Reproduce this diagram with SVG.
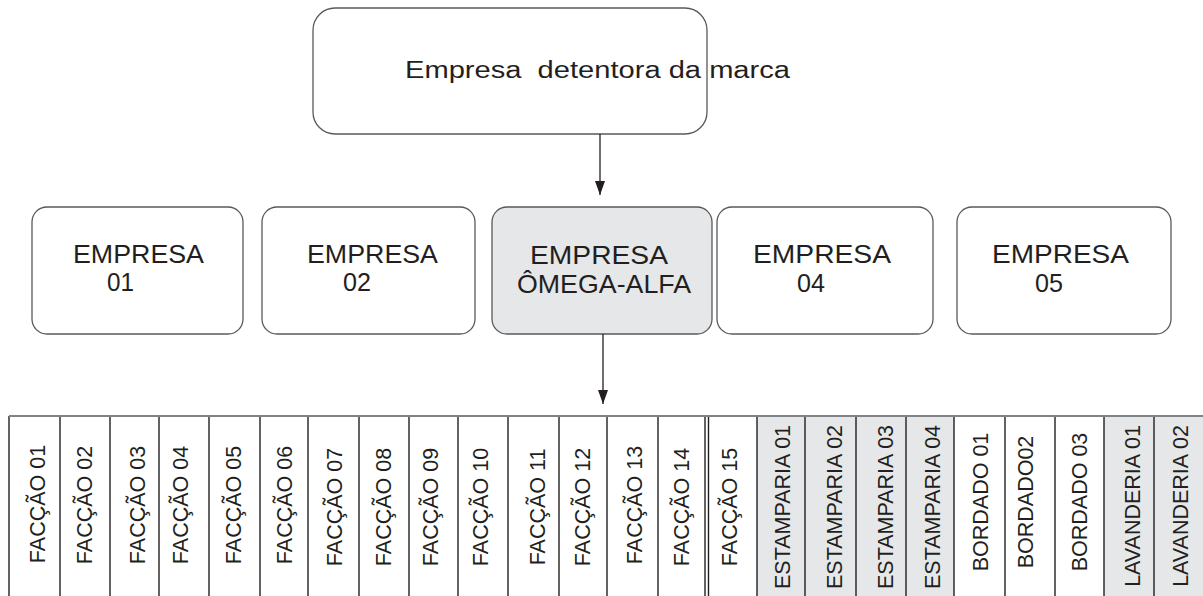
<svg xmlns="http://www.w3.org/2000/svg" width="1203" height="596" viewBox="0 0 1203 596">
<defs>
<style>
.box{fill:#fff;stroke:#58595b;stroke-width:1.3}
.hl{fill:#e6e7e9}
.t{font-family:"Liberation Sans",Arial,sans-serif;fill:#231f20}
.big{font-size:26px}
.top{font-size:23px;white-space:pre}
.v{font-size:21.5px;text-anchor:middle}
.div{stroke:#231f20;stroke-width:1.4}
.con{stroke:#231f20;stroke-width:1.3;fill:none}
</style>
<marker id="ah" viewBox="0 0 14 10" refX="14" refY="5" markerWidth="14" markerHeight="10" markerUnits="userSpaceOnUse" orient="auto">
<path d="M0,0 L14,5 L0,10 Z" fill="#231f20"/>
</marker>
</defs>
<rect width="1203" height="596" fill="#fff"/>

<g id="top">
<rect class="box" x="313" y="8" width="394" height="126" rx="22"/>
<text class="t top" x="405" y="78" textLength="385" lengthAdjust="spacingAndGlyphs">Empresa  detentora da marca</text>
</g>

<g id="empresa01">
<rect class="box" x="32" y="207" width="211" height="127" rx="15"/>
<text class="t big" x="73" y="263" textLength="131" lengthAdjust="spacingAndGlyphs">EMPRESA</text>
<text class="t big" x="107" y="291" textLength="27" lengthAdjust="spacingAndGlyphs">01</text>
</g>
<g id="empresa02">
<rect class="box" x="262" y="207" width="213" height="127" rx="15"/>
<text class="t big" x="307" y="263" textLength="131" lengthAdjust="spacingAndGlyphs">EMPRESA</text>
<text class="t big" x="343" y="291" textLength="28" lengthAdjust="spacingAndGlyphs">02</text>
</g>
<g id="empresa-omega-alfa">
<rect class="box hl" x="492" y="207" width="220" height="127" rx="15"/>
<text class="t big" x="530" y="264" textLength="138" lengthAdjust="spacingAndGlyphs">EMPRESA</text>
<text class="t big" x="517" y="293" textLength="174" lengthAdjust="spacingAndGlyphs">ÔMEGA-ALFA</text>
</g>
<g id="empresa04">
<rect class="box" x="717" y="207" width="216" height="127" rx="15"/>
<text class="t big" x="753" y="263" textLength="138" lengthAdjust="spacingAndGlyphs">EMPRESA</text>
<text class="t big" x="797" y="292" textLength="28" lengthAdjust="spacingAndGlyphs">04</text>
</g>
<g id="empresa05">
<rect class="box" x="957" y="207" width="214" height="127" rx="15"/>
<text class="t big" x="992" y="263" textLength="137" lengthAdjust="spacingAndGlyphs">EMPRESA</text>
<text class="t big" x="1035" y="292" textLength="28" lengthAdjust="spacingAndGlyphs">05</text>
</g>

<g id="connectors">
<line class="con" x1="600" y1="134" x2="600" y2="195" marker-end="url(#ah)"/>
<line class="con" x1="603" y1="334" x2="603" y2="404" marker-end="url(#ah)"/>
</g>

<g id="columns">
<rect class="hl" x="757" y="416" width="197" height="180"/>
<rect class="hl" x="1104" y="416" width="99" height="180"/>
<g class="div">
<line x1="9" y1="416" x2="9" y2="596"/>
<line x1="60" y1="416" x2="60" y2="596"/>
<line x1="110" y1="416" x2="110" y2="596"/>
<line x1="159" y1="416" x2="159" y2="596"/>
<line x1="209" y1="416" x2="209" y2="596"/>
<line x1="260" y1="416" x2="260" y2="596"/>
<line x1="308" y1="416" x2="308" y2="596"/>
<line x1="359" y1="416" x2="359" y2="596"/>
<line x1="409" y1="416" x2="409" y2="596"/>
<line x1="458" y1="416" x2="458" y2="596"/>
<line x1="508" y1="416" x2="508" y2="596"/>
<line x1="559" y1="416" x2="559" y2="596"/>
<line x1="607" y1="416" x2="607" y2="596"/>
<line x1="658" y1="416" x2="658" y2="596"/>
<line x1="705" y1="416" x2="705" y2="596"/>
<line x1="708.5" y1="416" x2="708.5" y2="596"/>
<line x1="757" y1="416" x2="757" y2="596"/>
<line x1="805" y1="416" x2="805" y2="596"/>
<line x1="856" y1="416" x2="856" y2="596"/>
<line x1="906" y1="416" x2="906" y2="596"/>
<line x1="954" y1="416" x2="954" y2="596"/>
<line x1="1005" y1="416" x2="1005" y2="596"/>
<line x1="1055" y1="416" x2="1055" y2="596"/>
<line x1="1104" y1="416" x2="1104" y2="596"/>
<line x1="1154" y1="416" x2="1154" y2="596"/>
</g>
<line x1="9" y1="416" x2="1203" y2="416" stroke="#808285" stroke-width="2"/>
</g>

<g id="labels">
<text class="t v" transform="translate(45,504) rotate(-90)">FACÇÃO 01</text>
<text class="t v" transform="translate(92,505) rotate(-90)">FACÇÃO 02</text>
<text class="t v" transform="translate(145,505) rotate(-90)">FACÇÃO 03</text>
<text class="t v" transform="translate(188,505) rotate(-90)">FACÇÃO 04</text>
<text class="t v" transform="translate(241,505) rotate(-90)">FACÇÃO 05</text>
<text class="t v" transform="translate(292,505) rotate(-90)">FACÇÃO 06</text>
<text class="t v" transform="translate(342,507) rotate(-90)">FACÇÃO 07</text>
<text class="t v" transform="translate(391,507) rotate(-90)">FACÇÃO 08</text>
<text class="t v" transform="translate(438,507) rotate(-90)">FACÇÃO 09</text>
<text class="t v" transform="translate(488,507) rotate(-90)">FACÇÃO 10</text>
<text class="t v" transform="translate(545,507) rotate(-90)">FACÇÃO 11</text>
<text class="t v" transform="translate(590,507) rotate(-90)">FACÇÃO 12</text>
<text class="t v" transform="translate(642,505) rotate(-90)">FACÇÃO 13</text>
<text class="t v" transform="translate(689,507) rotate(-90)">FACÇÃO 14</text>
<text class="t v" transform="translate(737,507) rotate(-90)">FACÇÃO 15</text>
<text class="t v" transform="translate(790,507) rotate(-90)">ESTAMPARIA 01</text>
<text class="t v" transform="translate(842,507) rotate(-90)">ESTAMPARIA 02</text>
<text class="t v" transform="translate(893,507) rotate(-90)">ESTAMPARIA 03</text>
<text class="t v" transform="translate(940,507) rotate(-90)">ESTAMPARIA 04</text>
<text class="t v" transform="translate(988,502) rotate(-90)">BORDADO 01</text>
<text class="t v" transform="translate(1033,502) rotate(-90)">BORDADO02</text>
<text class="t v" transform="translate(1087,502) rotate(-90)">BORDADO 03</text>
<text class="t v" transform="translate(1140,506) rotate(-90)">LAVANDERIA 01</text>
<text class="t v" transform="translate(1188,506) rotate(-90)">LAVANDERIA 02</text>
</g>
</svg>
